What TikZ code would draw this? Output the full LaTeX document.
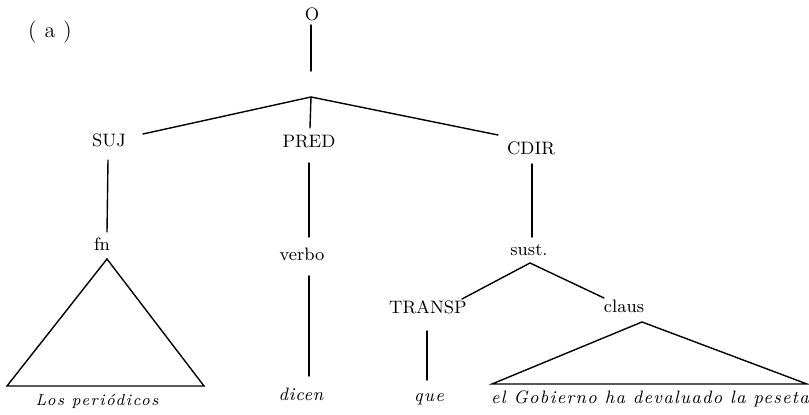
\documentclass[tikz,border=0pt]{standalone}
\usepackage{fontspec}
\newfontfamily\lsGob[LetterSpace=7.3]{Latin Modern Roman}
\newfontfamily\lsLos[LetterSpace=9.4]{Latin Modern Roman}
\newfontfamily\lsDic[LetterSpace=4.4]{Latin Modern Roman}
\newfontfamily\lsQue[LetterSpace=7.4]{Latin Modern Roman}
\begin{document}
\begin{tikzpicture}[x=0.5pt,y=-0.5pt,
  lab/.style={inner sep=0pt,anchor=base,font=\fontsize{9}{11}\selectfont},
  word/.style={inner sep=0pt,anchor=base},
  edge/.style={line width=0.7pt,line cap=round,line join=miter}]
\useasboundingbox (0,0) rectangle (809,415);
% labels
\node[inner sep=0pt,anchor=base,font=\fontsize{11}{13}\selectfont] (a) at (50,38) {(\kern4pt a\kern4pt)};
\node[lab] (O) at (312,21) {O};
\node[lab] (SUJ) at (109,147) {SUJ};
\node[lab] (PRED) at (309,148) {PRED};
\node[lab] (CDIR) at (531,155) {CDIR};
\node[lab] (fn) at (102,251) {fn};
\node[lab] (verbo) at (302,261) {verbo};
\node[lab] (sust) at (529,256) {sust.};
\node[lab] (TRANSP) at (428,314) {TRANSP};
\node[lab] (claus) at (624,313) {claus};
\node[word,font=\lsLos\fontsize{8}{10}\selectfont\itshape] (los) at (97,406) {Los periódicos};
\node[word,font=\lsDic\fontsize{9}{11}\selectfont\itshape] (dicen) at (301,401) {dicen};
\node[word,font=\lsQue\fontsize{9}{11}\selectfont\itshape] (que) at (429,402) {que};
\node[word,font=\lsGob\fontsize{9}{11}\selectfont\itshape] (gob) at (650,404) {el Gobierno ha devaluado la peseta};
% connector end points
\coordinate (Oend) at (311,71);
\coordinate (Otop) at (311,25);
\coordinate (apex) at (311,97);
\coordinate (sujR) at (143,134);
\coordinate (predT) at (310,128);
\coordinate (cdirL) at (498,135);
\coordinate (sujB) at (108,160);
\coordinate (fnT) at (107,232);
\coordinate (predB) at (309,163);
\coordinate (verboT) at (309,237);
\coordinate (verboB) at (309,276);
\coordinate (dicenT) at (309,376);
\coordinate (cdirB) at (532,164);
\coordinate (sustT) at (532,237);
\coordinate (sustB) at (530,263);
\coordinate (transpT) at (462,299);
\coordinate (clausT) at (604,298);
\coordinate (transpB) at (427,331);
\coordinate (queT) at (427,380);
% tree
\draw[edge] (Otop) -- (Oend);
\draw[edge] (sujR) -- (apex) -- (cdirL);
\draw[edge] (apex) -- (predT);
\draw[edge] (sujB) -- (fnT);
\draw[edge] (predB) -- (verboT);
\draw[edge] (verboB) -- (dicenT);
\draw[edge] (cdirB) -- (sustT);
\draw[edge] (transpT) -- (sustB) -- (clausT);
\draw[edge] (transpB) -- (queT);
% triangles
\draw[edge] (107,259) -- (7,386) -- (204,386) -- cycle;
\draw[edge] (642,322) -- (492,384) -- (807,384) -- cycle;
\end{tikzpicture}
\end{document}
